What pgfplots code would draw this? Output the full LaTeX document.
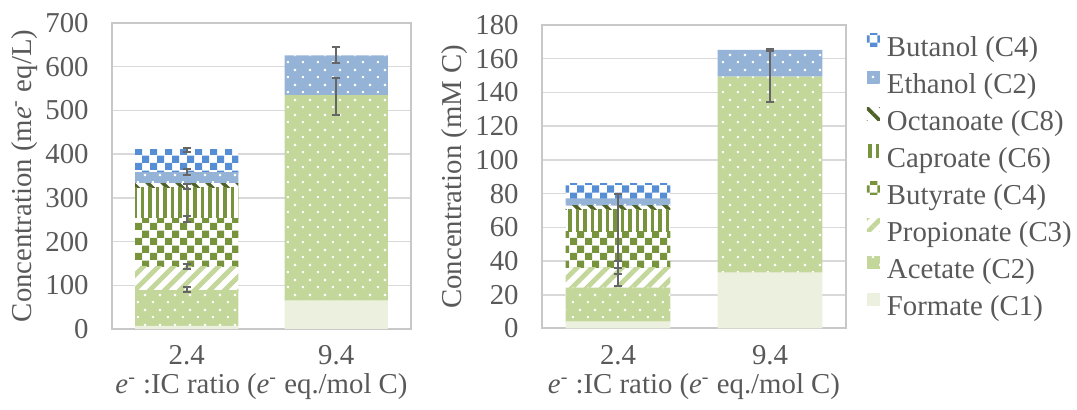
\documentclass[border=0pt]{standalone}
\usepackage{pgfplots}
\pgfplotsset{compat=1.18}
\usepackage{fontspec}
\setmainfont{Liberation Serif}
\usetikzlibrary{patterns,patterns.meta}

\definecolor{cF}{HTML}{EBF1DE}
\definecolor{cA}{HTML}{C4D79B}
\definecolor{cG}{HTML}{77933C}
\definecolor{cO}{HTML}{4F6228}
\definecolor{cE}{HTML}{95B3D7}
\definecolor{cB}{HTML}{558ED5}
\definecolor{cTxt}{HTML}{595959}
\definecolor{cGrid}{HTML}{D9D9D9}
\definecolor{cFrame}{HTML}{C8C8C8}
\definecolor{cErr}{HTML}{666666}

\newcommand{\fs}{\fontsize{14.4}{17}\selectfont}

\pgfdeclarepatternformonly{xdots}{\pgfpointorigin}{\pgfpoint{7.5pt}{7.5pt}}{\pgfpoint{7.5pt}{7.5pt}}{%
  \pgfpathrectangle{\pgfpoint{1pt}{1pt}}{\pgfpoint{1.1pt}{1.1pt}}%
  \pgfpathrectangle{\pgfpoint{4.75pt}{4.75pt}}{\pgfpoint{1.1pt}{1.1pt}}%
  \pgfusepath{fill}}
\pgfdeclarepatternformonly{xchecker}{\pgfpointorigin}{\pgfpoint{7.5pt}{7.5pt}}{\pgfpoint{7.5pt}{7.5pt}}{%
  \pgfpathrectangle{\pgfpointorigin}{\pgfpoint{3.75pt}{3.75pt}}%
  \pgfpathrectangle{\pgfpoint{3.75pt}{3.75pt}}{\pgfpoint{3.75pt}{3.75pt}}%
  \pgfusepath{fill}}

\pgfplotsset{
  formate/.style={fill=cF, draw=none},
  acetate/.style={fill=cA, draw=none, postaction={pattern=xdots, pattern color=white}},
  propionate/.style={fill=white, draw=none, postaction={pattern={Lines[angle=45,distance=5.3pt,line width=2.4pt]}, pattern color=cA}},
  butyrate/.style={fill=white, draw=none, postaction={pattern=xchecker, pattern color=cG}},
  caproate/.style={fill=white, draw=none, postaction={pattern={Lines[angle=90,distance=3.75pt,line width=1.7pt]}, pattern color=cG}},
  octanoate/.style={fill=white, draw=none, postaction={pattern={Lines[angle=-45,distance=5.3pt,line width=1.8pt]}, pattern color=cO}},
  ethanol/.style={fill=cE, draw=none, postaction={pattern=xdots, pattern color=white}},
  butanol/.style={fill=white, draw=none, postaction={pattern=xchecker, pattern color=cB}},
  chartax/.style={
    scale only axis, ybar stacked, bar width=0.69,
    xmin=-0.5, xmax=1.5, ymin=0,
    xtick={0,1}, xticklabels={2.4,9.4},
    major tick length=0,
    axis line style={draw=cFrame, line width=1pt},
    ymajorgrids, grid style={draw=cGrid, line width=0.75pt},
    tick label style={font=\fs, text=cTxt},
    /pgf/number format/assume math mode=true,
    y tick label style={inner sep=0pt, xshift=-11.5pt, anchor=east},
    x tick label style={inner sep=0pt, anchor=base, yshift=-18pt},
    label style={font=\fs, text=cTxt, inner sep=0pt},
    xlabel style={at={(axis description cs:0.5,0)}, anchor=base, yshift=-32.5pt},
  },
  errax/.style={
    scale only axis, hide axis, xmin=-0.5, xmax=1.5, ymin=0, clip=false,
  },
  errstyle/.style={draw=none, mark=none, forget plot,
    error bars/.cd, y dir=both, y explicit,
    error bar style={line width=1pt, draw=cErr},
    error mark options={rotate=90, mark size=2pt, line width=1pt, draw=cErr}},
}

\begin{document}
\begin{tikzpicture}
\path[use as bounding box] (-56pt,-40.5pt) rectangle (482.5pt,164.5pt);

% ---------- left chart ----------
\begin{axis}[chartax, at={(0pt,0pt)}, anchor=south west,
  width=149.5pt, height=153pt, ymax=700, ytick={0,100,...,700},
  ylabel={Concentration (m{\itshape e}\textsuperscript{-} eq/L)},
  ylabel style={at={(axis description cs:-0.2926,0.5)}, anchor=center},
  xlabel={{\itshape e}\textsuperscript{-} :IC ratio ({\itshape e}\textsuperscript{-} eq./mol C)}]
\addplot[formate]    coordinates {(0,7) (1,65)};
\addplot[acetate]    coordinates {(0,82) (1,470)};
\addplot[propionate] coordinates {(0,53) (1,0)};
\addplot[butyrate]   coordinates {(0,111) (1,0)};
\addplot[caproate]   coordinates {(0,70) (1,0)};
\addplot[octanoate]  coordinates {(0,10) (1,0)};
\addplot[ethanol]    coordinates {(0,26) (1,91)};
\addplot[butanol]    coordinates {(0,51) (1,0)};
\end{axis}
\begin{axis}[errax, at={(0pt,0pt)}, anchor=south west, width=149.5pt, height=153pt, ymax=700]
\addplot[errstyle] coordinates {
  (0,90) +- (0,6)
  (0,143) +- (0,6)
  (0,252) +- (0,6.5)
  (0,326) +- (0,6)
  (0,359) +- (0,6)
  (0,410) +- (0,5)
  (1,535) += (0,40) -= (0,45)
  (1,627) += (0,19) -= (0,19)
};
\end{axis}

% ---------- right chart ----------
\begin{axis}[chartax, at={(215pt,0.25pt)}, anchor=south west,
  width=152pt, height=151.75pt, ymax=180, ytick={0,20,...,180},
  ylabel={Concentration (mM C)},
  ylabel style={at={(axis description cs:-0.2878,0.5)}, anchor=center},
  xlabel={{\itshape e}\textsuperscript{-} :IC ratio ({\itshape e}\textsuperscript{-} eq./mol C)},
  reverse legend, legend cell align=left,
  legend style={at={(1.069,0.99)}, anchor=north west, draw=none, fill=none,
    inner sep=0pt, outer sep=0pt, row sep=0pt, font=\fs, text=cTxt,
    nodes={inner sep=0pt, text height=14pt, text depth=4.5pt},
    /tikz/every odd column/.append style={column sep=3.5pt}},
  legend image code/.code={\draw[#1, draw=none] (0pt,0pt) rectangle (6.5pt,6.5pt);}]
\addplot[formate]    coordinates {(0,4) (1,33.1)};
\addplot[acetate]    coordinates {(0,20.2) (1,116.3)};
\addplot[propionate] coordinates {(0,11.9) (1,0)};
\addplot[butyrate]   coordinates {(0,21.3) (1,0)};
\addplot[caproate]   coordinates {(0,12.9) (1,0)};
\addplot[octanoate]  coordinates {(0,2.5) (1,0)};
\addplot[ethanol]    coordinates {(0,4.4) (1,15.8)};
\addplot[butanol]    coordinates {(0,8.5) (1,0)};
\legend{Formate (C1),Acetate (C2),Propionate (C3),Butyrate (C4),Caproate (C6),Octanoate (C8),Ethanol (C2),Butanol (C4)}
\end{axis}
\begin{axis}[errax, at={(215pt,0.25pt)}, anchor=south west, width=152pt, height=151.75pt, ymax=180]
\addplot[errstyle] coordinates {
  (0,25.2) += (0,7.2) -= (0,0)
  (0,36.1) += (0,3.9) -= (0,3.7)
  (0,57.4) += (0,22.4) -= (0,21.7)
  (1,149.4) += (0,15) -= (0,15)
  (1,165.2) += (0,0.3) -= (0,0.3)
};
\end{axis}
\end{tikzpicture}
\end{document}
